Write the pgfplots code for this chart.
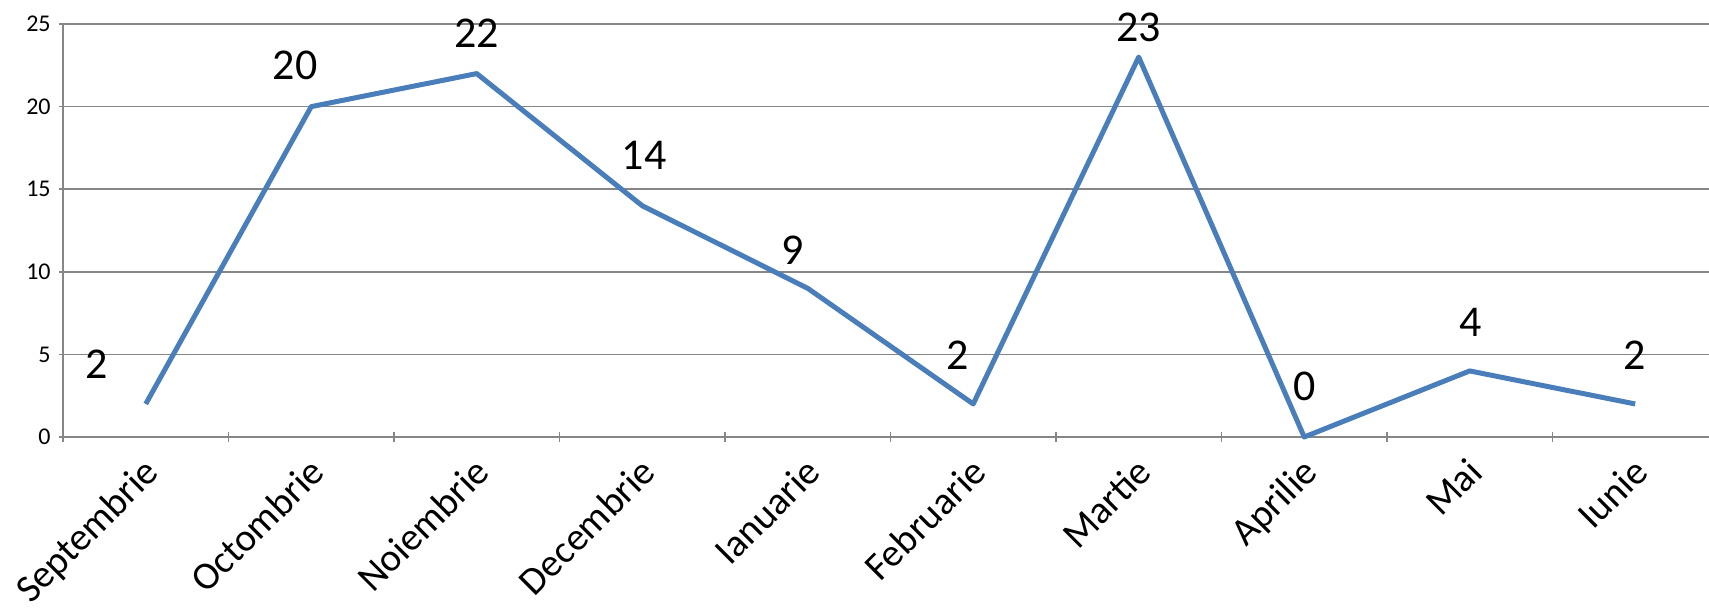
\documentclass[border=0pt]{standalone}
\usepackage{pgfplots}
\pgfplotsset{compat=1.18}
\usepackage{pgfplotstable}
\usepackage{fontspec}
\setmainfont{Carlito}

\definecolor{linieblue}{HTML}{4A7EBB}
\definecolor{gridgray}{HTML}{868686}

% x, valoare, deplasarea etichetei (pt)
\pgfplotstableread{
x y lx ly
0 2 -24.5 20
1 20 -8 20.5
2 22 0 20
3 14 1 25
4 9 -7.5 19
5 2 -8 24.5
6 23 0 15
7 0 0 25.5
8 4 0.5 24.5
9 2 -0.5 24.5
}\luni

\begin{document}
\begin{tikzpicture}
\begin{axis}[
    at={(0,0)}, anchor=south west,
    scale only axis,
    width=823pt, height=206.5pt,
    xmin=-0.5, xmax=9.446,
    ymin=0, ymax=25,
    ytick={0,5,...,25},
    xtick={0,...,9},
    xticklabels={Septembrie,Octombrie,Noiembrie,Decembrie,Ianuarie,Februarie,Martie,Aprilie,Mai,Iunie},
    minor xtick={-0.5,0.5,...,8.5},
    major x tick style={draw=none},
    minor tick length=5pt,
    major tick length=4pt,
    tick align=outside,
    tick style={gridgray, line width=0.75pt},
    ymajorgrids,
    grid style={gridgray, line width=0.75pt},
    axis line style={gridgray, line width=0.75pt},
    axis x line=bottom,
    axis y line=left,
    axis line style={-},
    /pgf/number format/assume math mode=true,
    yticklabel style={font=\fontsize{12}{14}\selectfont, anchor=east, inner sep=0pt, xshift=-4pt},
    xticklabel style={font=\fontsize{19.5}{23}\selectfont, rotate=45, anchor=north east, inner sep=0pt, xshift=-6.5pt, yshift=-3.5pt},
    clip=false,
]
\addplot[linieblue, line width=2.5pt, line join=round,
    visualization depends on={\thisrow{lx} \as \lx},
    visualization depends on={\thisrow{ly} \as \ly},
    point meta=explicit,
    nodes near coords,
    nodes near coords style={anchor=center, text=black, font=\fontsize{22}{26}\selectfont,
        xshift=\lx pt, yshift=\ly pt, inner sep=0pt},
] table[x=x, y=y, meta=y] {\luni};
\end{axis}
\pgfresetboundingbox
\useasboundingbox (-31.5pt,-85pt) rectangle (823pt,218.5pt);
\end{tikzpicture}
\end{document}
